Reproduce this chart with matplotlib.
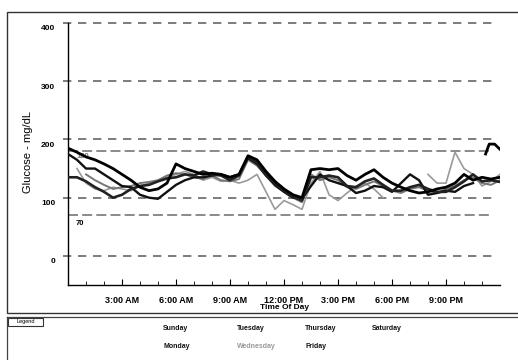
import numpy as np
import matplotlib
matplotlib.use("Agg")
import matplotlib.pyplot as plt
from matplotlib.patches import Rectangle
from matplotlib.lines import Line2D

plt.rcParams['font.family'] = ['Liberation Sans', 'DejaVu Sans']

nan = np.nan
hours = np.arange(0, 24.01, 0.5)

sunday = [185, 178, 170, 165, 158, 150, 140, 130, 118, 112, 115, 125, 158, 150, 145, 140,
          142, 140, 135, 140, 172, 165, 145, 128, 115, 105, 100, 148, 150, 148, 150, 138,
          130, 140, 148, 135, 125, 118, 112, 108, 110, 115, 118, 125, 140, 130, 135, 132, 135]
monday = [135, 135, 128, 118, 110, 100, 105, 115, 120, 122, 128, 133, 135, 140, 138, 145,
          140, 138, 130, 138, 170, 160, 140, 125, 112, 102, 95, 135, 135, 138, 135, 120,
          118, 128, 133, 122, 112, 112, 118, 122, 115, 110, 110, 118, 128, 140, 128, 130, 127]
tuesday = [175, 165, 150, 150, 140, 130, 120, 118, 105, 100, 98, 110, 122, 130, 135, 135,
           138, 140, 135, 140, 168, 158, 138, 122, 110, 100, 98, 120, 140, 130, 125, 120,
           108, 112, 120, 118, 110, 125, 140, 130, 105, 108, 112, 110, 120, 125, nan, nan, nan]
wednesday = [nan, 150, 125, 115, 112, 118, 115, 112, 120, 125, 128, 135, 140, 145, 140, 130,
             135, 128, 130, 125, 130, 140, 110, 80, 95, 88, 80, 125, 145, 105, 95, 108,
             120, 125, 115, 100, nan, nan, nan, nan, 140, 125, 125, 178, 150, 140, 120, 128, 140]
thursday = [nan, nan, 140, 130, 122, 115, 118, 120, 125, 127, 130, 138, 142, 140, 135, 132,
            138, 130, 128, 132, 165, 155, 138, 120, 110, 100, 92, 140, 130, 135, 130, 118,
            115, 122, 128, 120, 112, 108, 115, 118, 112, 108, 115, 120, 130, 135, 125, 122, 130]
sat_hours = [23.2, 23.4, 23.7, 24.0]
saturday = [175, 192, 192, 183]

legend_days = ["Sunday", "Monday", "Tuesday", "Wednesday", "Thursday", "Friday", "Saturday"]
xtick_hours = [3, 6, 9, 12, 15, 18, 21]
xtick_labels = ["3:00 AM", "6:00 AM", "9:00 AM", "12:00 PM", "3:00 PM", "6:00 PM", "9:00 PM"]
ytick_vals = [0, 100, 200, 300, 400]
target_lines = [70, 180]

fig = plt.figure(figsize=(5.18, 3.6), dpi=100)

# outer frames
frame = fig.add_axes([0, 0, 1, 1])
frame.set_xlim(0, 518)
frame.set_ylim(360, 0)
frame.axis('off')
frame.add_patch(Rectangle((7, 12), 520, 301, fill=False, ec='#333', lw=1.0))
frame.add_line(Line2D([7, 520], [316.5, 316.5], color='#444', lw=0.9))
frame.add_line(Line2D([7, 7], [316.5, 362], color='#444', lw=0.9))
frame.add_patch(Rectangle((8, 317.5), 35, 8, fill=False, ec='#333', lw=0.8))
frame.text(25.5, 321.5, "Legend", fontsize=4, ha='center', va='center')
frame.text(28, 152, "Glucose - mg/dL", fontsize=8, rotation=90, ha='center', va='center')

ax = fig.add_axes([68/518, 1-285/360, 432/518, 262/360])
ax.set_xlim(0, 24)
ax.set_ylim(-50, 400)
for s in ['top', 'right']:
    ax.spines[s].set_visible(False)
ax.spines['left'].set_linewidth(1.0)
ax.spines['bottom'].set_linewidth(1.0)

for v in ytick_vals:
    ax.plot([-0.3, 23.6], [v, v], ls=(0, (5, 4)), color='#666', lw=1.2, clip_on=False, zorder=1)
for v in target_lines:
    ax.plot([0, 23.6], [v, v], ls=(0, (6, 2.5)), color='#777', lw=1.2, zorder=1)

ax.plot(hours, wednesday, color='#9a9a9a', lw=1.2, zorder=3)
ax.plot(hours, thursday, color='#777777', lw=1.4, zorder=3)
ax.plot(hours, tuesday, color='#111111', lw=1.7, zorder=4)
ax.plot(hours, monday, color='#222222', lw=1.9, zorder=4)
ax.plot(hours, sunday, color='#000000', lw=2.0, zorder=5)
ax.plot(sat_hours, saturday, color='#000000', lw=2.0, zorder=5)

ax.set_yticks(ytick_vals)
ax.set_yticklabels([])
ax.set_xticks(xtick_hours)
ax.set_xticklabels(xtick_labels, fontsize=6.5, fontweight='bold')
ax.set_xticks(np.arange(1, 24, 1), minor=True)
ax.tick_params(axis='x', which='major', length=4, direction='in', pad=8)
ax.tick_params(axis='x', which='minor', length=3, direction='in')
ax.tick_params(axis='y', length=0)
for v in ytick_vals:
    ax.text(-0.7, v - 10, str(v), fontsize=6, fontweight='bold', ha='right', va='center')
ax.text(0.45, 70 - 8, "70", fontsize=5.5, fontweight='bold', ha='left', va='top')
ax.text(0.45, 180 - 3, "180", fontsize=5.5, fontweight='bold', ha='left', va='top', color='#777', zorder=2)
ax.set_xlabel("Time Of Day", fontsize=6, fontweight='bold', labelpad=-1)

# legend day names
legend_pos = [(163, 328), (163, 347), (237, 328), (237, 347), (305, 328), (305, 347), (372, 328)]
for name, (px, py) in zip(legend_days, legend_pos):
    col = '#999' if name == "Wednesday" else '#111'
    frame.text(px, py, name, fontsize=5, fontweight='bold', ha='left', va='center', color=col)

fig.savefig("out.png", dpi=100)
